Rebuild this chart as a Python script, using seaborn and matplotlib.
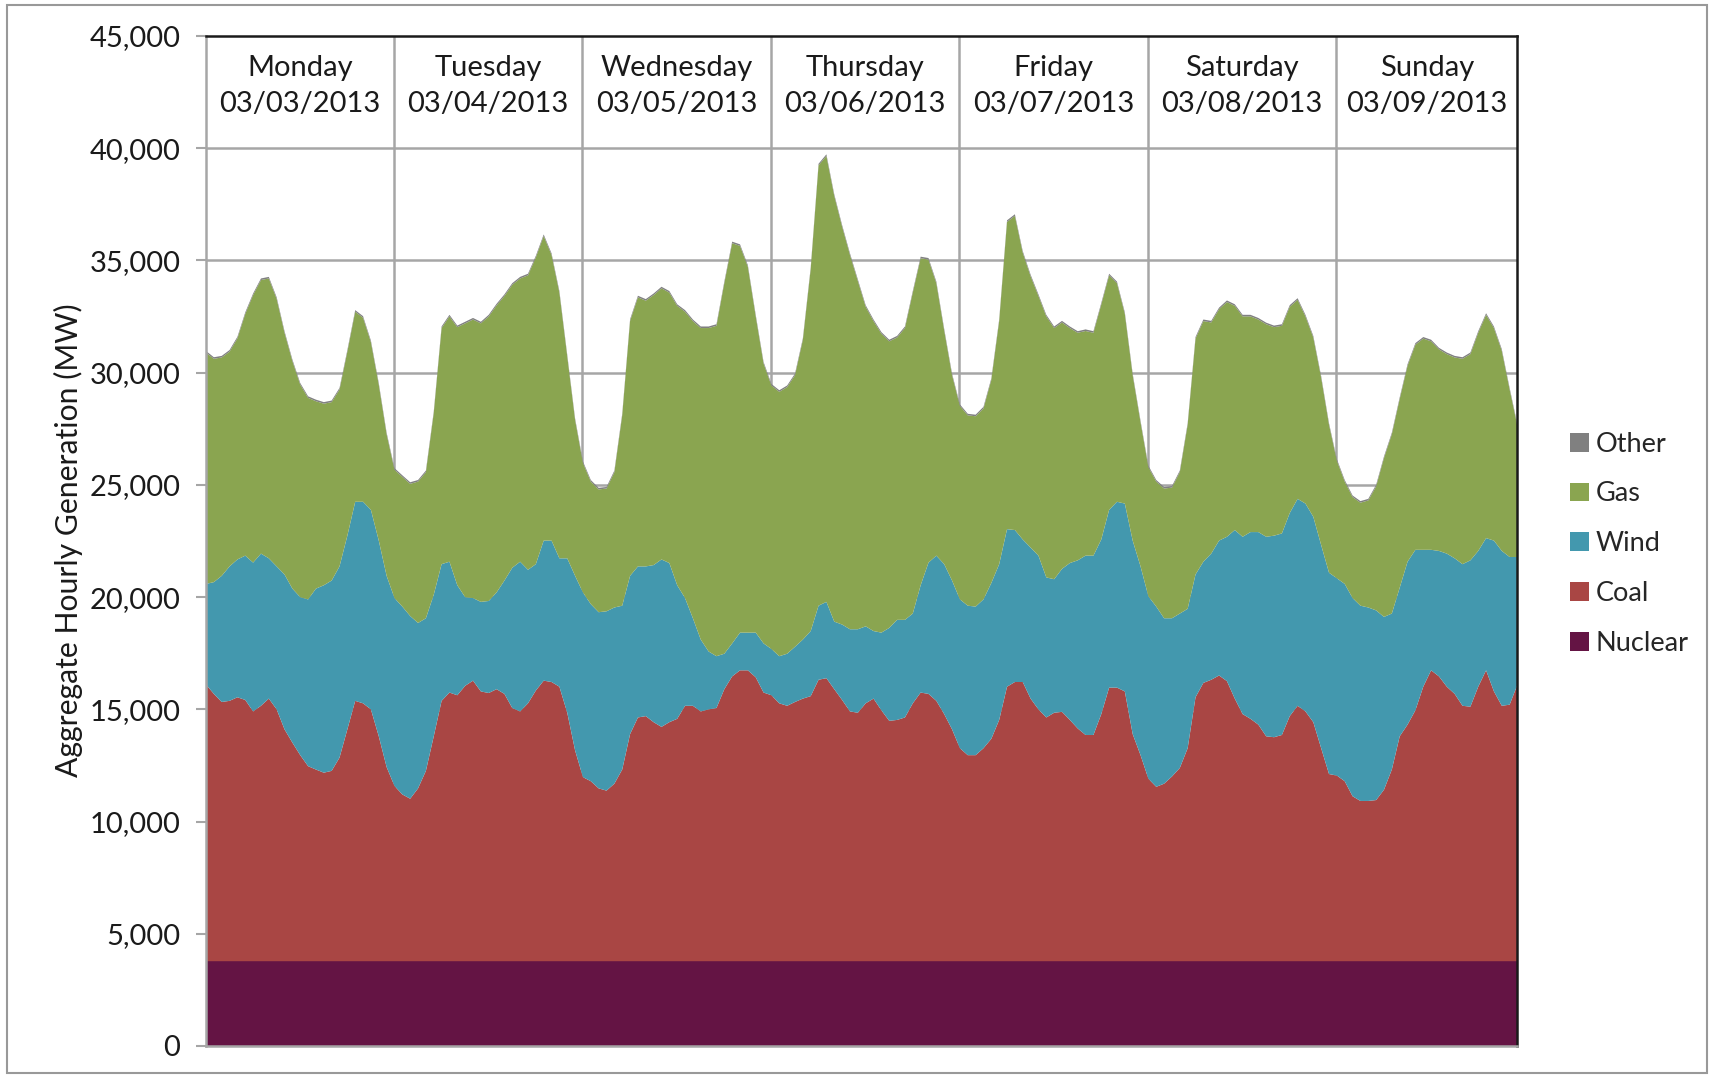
import numpy as np
import matplotlib
matplotlib.use("Agg")
import matplotlib.pyplot as plt
import seaborn as sns
from matplotlib.patches import Patch, Rectangle
from matplotlib.ticker import FuncFormatter

# ----------------------------
# Data (hourly, stacked tops, MW)
# ----------------------------
days = ["Monday", "Tuesday", "Wednesday", "Thursday", "Friday", "Saturday", "Sunday"]
dates = ["03/03/2013", "03/04/2013", "03/05/2013", "03/06/2013",
         "03/07/2013", "03/08/2013", "03/09/2013"]

nuclear_by_day = [3800, 3800, 3800, 3800, 3800, 3800, 3800]
other_by_day = [70, 70, 70, 70, 70, 70, 70]

# top of the coal layer (nuclear + coal)
coal_top = [
    16130, 15710, 15350, 15400, 15560, 15440, 14930, 15180, 15500, 15020, 14130, 13540,
    12980, 12490, 12340, 12200, 12280, 12870, 14130, 15400, 15290, 15020, 13820, 12450,
    11610, 11230, 11040, 11500, 12280, 13820, 15400, 15770, 15650, 16070, 16300, 15820,
    15750, 15920, 15710, 15080, 14930, 15290, 15860, 16300, 16240, 16030, 14870, 13190,
    12000, 11820, 11500, 11400, 11710, 12340, 13920, 14660, 14720, 14450, 14240, 14450,
    14600, 15180, 15180, 14930, 15020, 15080, 15920, 16490, 16760, 16760, 16450, 15770,
    15650, 15290, 15180, 15350, 15500, 15610, 16340, 16410, 15920, 15440, 14930, 14870,
    15290, 15500, 14980, 14510, 14550, 14660, 15290, 15770, 15710, 15400, 14810, 14130,
    13290, 12980, 12980, 13290, 13710, 14550, 16030, 16240, 16240, 15500, 15020, 14660,
    14870, 14910, 14550, 14170, 13880, 13880, 14810, 15990, 15990, 15820, 13920, 12980,
    11930, 11570, 11710, 12030, 12410, 13290, 15560, 16200, 16340, 16530, 16280, 15500,
    14810, 14600, 14340, 13820, 13780, 13880, 14720, 15180, 14930, 14450, 13290, 12140,
    12070, 11820, 11150, 10940, 10940, 10980, 11440, 12340, 13820, 14340, 14980, 16030,
    16760, 16490, 16030, 15710, 15180, 15140, 16030, 16760, 15820, 15180, 15230, 16130,
]

# top of the wind layer
wind_top = [
    20610, 20690, 20970, 21390, 21700, 21870, 21560, 21960, 21750, 21390, 21030, 20400,
    20020, 19920, 20400, 20550, 20760, 21390, 22760, 24270, 24270, 23910, 22540, 20970,
    19980, 19600, 19180, 18870, 19080, 20130, 21490, 21600, 20550, 20020, 19980, 19810,
    19850, 20230, 20760, 21330, 21600, 21240, 21490, 22540, 22540, 21750, 21750, 20970,
    20230, 19710, 19350, 19390, 19560, 19640, 20970, 21390, 21390, 21450, 21700, 21540,
    20550, 19980, 19080, 18130, 17600, 17390, 17500, 17960, 18440, 18440, 18440, 17960,
    17710, 17390, 17500, 17810, 18130, 18510, 19640, 19810, 18930, 18800, 18590, 18590,
    18720, 18510, 18440, 18650, 19010, 19010, 19290, 20550, 21560, 21870, 21490, 20760,
    19920, 19640, 19600, 19920, 20650, 21490, 23050, 23010, 22590, 22230, 21870, 20900,
    20820, 21280, 21540, 21660, 21870, 21870, 22590, 23910, 24270, 24190, 22540, 21390,
    20060, 19600, 19080, 19080, 19290, 19500, 21030, 21600, 21960, 22540, 22710, 23010,
    22710, 22920, 22920, 22710, 22760, 22860, 23770, 24400, 24190, 23600, 22340, 21110,
    20860, 20610, 19980, 19640, 19560, 19430, 19140, 19290, 20440, 21600, 22130, 22130,
    22130, 22080, 21960, 21750, 21490, 21660, 22080, 22650, 22540, 22080, 21810, 21810,
]

# top of the gas layer
gas_top = [
    30920, 30640, 30700, 30960, 31550, 32640, 33480, 34150, 34220, 33310, 31800, 30540,
    29490, 28900, 28750, 28640, 28710, 29270, 30960, 32740, 32470, 31380, 29490, 27280,
    25700, 25380, 25070, 25170, 25590, 28220, 32010, 32530, 32050, 32220, 32390, 32220,
    32530, 33020, 33440, 33940, 34220, 34360, 35160, 36110, 35270, 33590, 30750, 27910,
    26000, 25170, 24820, 24860, 25590, 28120, 32330, 33380, 33230, 33480, 33780, 33590,
    33000, 32740, 32320, 32010, 32010, 32110, 34010, 35790, 35670, 34740, 32530, 30430,
    29450, 29170, 29380, 29910, 31480, 34640, 39260, 39680, 37900, 36530, 35270, 34110,
    32960, 32320, 31760, 31420, 31590, 32010, 33590, 35120, 35060, 34010, 31900, 29910,
    28540, 28120, 28080, 28430, 29700, 32320, 36740, 37010, 35370, 34320, 33440, 32530,
    32010, 32260, 32010, 31800, 31880, 31800, 33060, 34360, 34010, 32640, 29910, 27810,
    25810, 25170, 24860, 24900, 25590, 27700, 31540, 32320, 32260, 32850, 33170, 33000,
    32530, 32530, 32390, 32180, 32050, 32110, 32960, 33270, 32530, 31590, 29800, 27700,
    26100, 25170, 24480, 24230, 24330, 24960, 26220, 27280, 28850, 30330, 31270, 31540,
    31420, 31060, 30850, 30700, 30640, 30850, 31800, 32600, 32010, 31000, 29270, 27630,
]

colors = {
    "Other": "#808080",
    "Gas": "#8aa550",
    "Wind": "#4398ae",
    "Coal": "#a94644",
    "Nuclear": "#641444",
}

# ----------------------------
# Build the stacked boundaries
# ----------------------------
hours = np.arange(len(gas_top))
nuclear_top = np.repeat(nuclear_by_day, 24)[:len(hours)]
other_top = np.array(gas_top) + np.repeat(other_by_day, 24)[:len(hours)]

sns.set_style("white")
plt.rcParams["font.family"] = ["Lato", "DejaVu Sans"]

fig = plt.figure(figsize=(17.14, 10.77), dpi=100)
ax = fig.add_axes([205.5 / 1714, 1 - 1046 / 1077, (1517 - 205.5) / 1714, (1046 - 36) / 1077])

grid_c = "#a6a6a6"
for yv in range(5000, 45000, 5000):
    ax.axhline(yv, color=grid_c, lw=1.8, zorder=0)
for d in range(1, 7):
    ax.axvline(d * 24, color=grid_c, lw=1.8, zorder=0)

ax.fill_between(hours, 0, nuclear_top, color=colors["Nuclear"], lw=0, zorder=2)
ax.fill_between(hours, nuclear_top, coal_top, color=colors["Coal"], lw=0, zorder=2)
ax.fill_between(hours, coal_top, wind_top, color=colors["Wind"], lw=0, zorder=2)
ax.fill_between(hours, wind_top, gas_top, color=colors["Gas"], lw=0, zorder=2)
ax.fill_between(hours, gas_top, other_top, color=colors["Other"], lw=0, zorder=2)

ax.set_xlim(0, hours[-1])
ax.set_ylim(0, 45000)
ax.set_xticks([])
ax.set_yticks(range(0, 45001, 5000))
ax.yaxis.set_major_formatter(FuncFormatter(lambda v, p: f"{int(v):,}"))
ax.tick_params(axis="y", which="major", left=True, length=7, width=1.5,
               color=grid_c, labelsize=21, pad=11, labelcolor="#1a1a1a")

for side in ["left", "bottom"]:
    ax.spines[side].set_color(grid_c)
    ax.spines[side].set_linewidth(1.8)
for side in ["top", "right"]:
    ax.spines[side].set_color("#1a1a1a")
    ax.spines[side].set_linewidth(1.8)

# day headers
for i, (day, date) in enumerate(zip(days, dates)):
    xc = (i * 24 + min(i * 24 + 24, hours[-1])) / 2
    ax.text(xc, 42780, f"{day}\n{date}", ha="center", va="center",
            fontsize=21, linespacing=1.45, color="#1a1a1a", zorder=3)

fig.text(68 / 1714, 0.498, "Aggregate Hourly Generation (MW)", rotation=90,
         ha="center", va="center", fontsize=21.7, color="#1a1a1a")

handles = [Patch(facecolor=colors[k], edgecolor="none", label=k)
           for k in ["Other", "Gas", "Wind", "Coal", "Nuclear"]]
fig.legend(handles=handles, loc="center left", bbox_to_anchor=(0.908, 0.495),
           frameon=False, fontsize=19.5, handlelength=0.7, handleheight=0.7,
           handletextpad=0.25, labelspacing=0.92, borderpad=0)

fig.add_artist(Rectangle((0.004, 0.004), 0.992, 0.991, transform=fig.transFigure,
                         fill=False, edgecolor="#999999", lw=1.5))

fig.savefig("out.png", dpi=100)
